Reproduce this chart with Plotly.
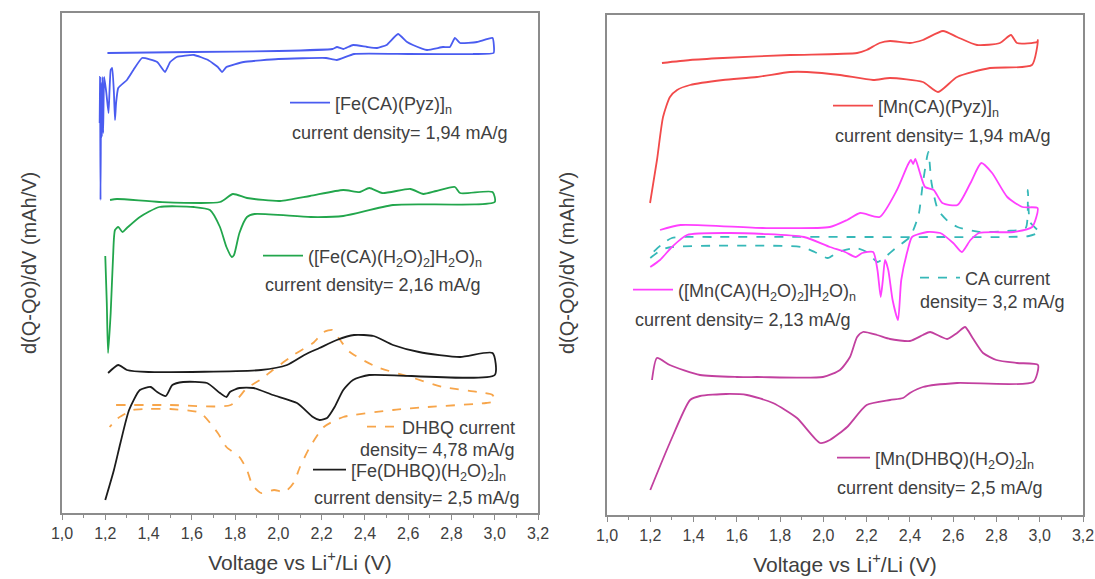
import plotly.graph_objects as go

W, H = 1095, 579

# ---------------- data (voltage in V, dQ/dV in arbitrary offset units) ----------------
# Left panel
fe_ca_pyz_v = [1.21, 1.6, 2.0, 2.25, 2.271, 2.30, 2.345, 2.41, 2.456, 2.50, 2.553, 2.595, 2.622, 2.687,
               2.761, 2.793, 2.816, 2.84, 2.918, 2.99, 2.995,
               2.9, 2.6, 2.35, 2.27, 2.22, 2.0, 1.84, 1.76, 1.74, 1.72, 1.675, 1.61, 1.53, 1.50, 1.476,
               1.44, 1.37, 1.33, 1.30, 1.26, 1.25, 1.245, 1.24, 1.232, 1.225, 1.215, 1.205, 1.195, 1.19,
               1.187, 1.184, 1.181, 1.178, 1.176, 1.174]
fe_ca_pyz_y = [460, 461, 462, 464, 466, 464, 468, 466, 465, 468, 479, 471, 468, 463,
               466, 466, 475, 470, 471, 475, 460,
               459, 459, 459, 453, 455, 454, 451, 446, 441, 446, 453, 458, 456, 451, 441,
               451, 455, 443, 433, 425, 410, 393, 420, 445, 443, 400, 420, 436, 380,
               436, 376, 430, 313, 436, 390]

fe_ca_h2o_v = [1.222, 1.254, 1.45, 1.73, 1.79, 1.855, 2.008, 2.146, 2.30, 2.377, 2.42, 2.48, 2.61, 2.67,
               2.73, 2.816, 2.84, 2.99, 3.0,
               2.53, 2.30, 2.15, 1.89, 1.855, 1.82, 1.795, 1.785, 1.76, 1.73, 1.684, 1.61, 1.45, 1.36,
               1.30, 1.28, 1.26, 1.245, 1.236, 1.225, 1.213, 1.207, 1.20]
fe_ca_h2o_y = [313, 314, 311, 311, 319, 315, 312, 317, 323, 321, 325, 320, 324, 319,
               322, 326, 320, 321, 311,
               308, 297, 296, 299, 296, 280, 258, 256, 266, 286, 303, 306, 306, 296,
               285, 281, 286, 283, 256, 200, 160, 210, 257]

fe_dhbq_v = [1.213, 1.26, 1.30, 1.40, 1.92, 2.04, 2.12, 2.19, 2.27, 2.35, 2.44, 2.53, 2.65, 2.84, 2.99, 3.0,
             2.42, 2.345, 2.30, 2.26, 2.225, 2.19, 2.16, 2.086, 1.975, 1.885, 1.82, 1.776, 1.76, 1.73,
             1.67, 1.56, 1.51, 1.48, 1.44, 1.41, 1.36, 1.31, 1.27, 1.24, 1.20]
fe_dhbq_y = [140, 148, 143, 141, 143, 148, 158, 165, 173, 178, 177, 168, 161, 156, 160, 138,
             138, 133, 123, 106, 95, 93, 96, 110, 118, 125, 125, 121, 116, 120,
             130, 131, 128, 117, 121, 126, 123, 103, 70, 43, 13]

dhbq_v = [1.25, 1.50, 1.78, 1.855, 1.915, 1.975, 2.07, 2.16, 2.21, 2.25, 2.285, 2.33, 2.455, 2.61, 2.76,
          2.92, 2.99, 3.0,
          2.96, 2.69, 2.53, 2.30, 2.21, 2.146, 2.10, 2.07, 2.03, 1.98, 1.92, 1.88, 1.855, 1.82, 1.76,
          1.72, 1.64, 1.50, 1.40, 1.33, 1.26, 1.22]
dhbq_y = [108, 108, 108, 125, 133, 143, 158, 170, 181, 183, 173, 161, 146, 136, 126,
          121, 118, 112,
          110, 106, 103, 96, 86, 66, 46, 30, 21, 23, 20, 28, 43, 56, 66,
          80, 100, 104, 104, 103, 95, 86]

# Right panel
mn_ca_pyz_v = [1.254, 1.384, 1.536, 1.846, 2.156, 2.20, 2.26, 2.308, 2.40, 2.46, 2.553, 2.618, 2.71,
               2.816, 2.867, 2.895, 2.988, 2.992,
               2.964, 2.77, 2.618, 2.53, 2.46, 2.308, 2.23, 2.077, 1.924, 1.846, 1.693, 1.536, 1.384,
               1.324, 1.291, 1.259, 1.231, 1.199]
mn_ca_pyz_y = [452, 455, 457, 460, 462, 465, 472, 474, 472, 475, 484, 478, 470,
               472, 480, 472, 473, 475,
               450, 447, 438, 423, 433, 437, 435, 440, 443, 443, 438, 435, 430,
               425, 418, 398, 355, 312]

mn_ca_h2o_v = [1.245, 1.34, 1.72, 2.03, 2.11, 2.17, 2.26, 2.34, 2.39, 2.405, 2.415, 2.425, 2.445, 2.47,
               2.51, 2.55, 2.62, 2.68, 2.73, 2.78, 2.85, 2.92, 2.99,
               2.965, 2.88, 2.72, 2.68, 2.64, 2.60, 2.54, 2.48, 2.41, 2.39, 2.36, 2.345, 2.32, 2.30,
               2.285, 2.275, 2.265, 2.25, 2.23, 2.18, 2.15, 2.10, 2.03, 1.91, 1.57, 1.37, 1.30,
               1.245, 1.20]
mn_ca_h2o_y = [285, 290, 287, 288, 295, 302, 298, 325, 350, 355, 351, 356, 343, 328,
               325, 312, 310, 332, 352, 342, 318, 308, 307,
               288, 283, 282, 275, 263, 272, 282, 283, 278, 265, 235, 195, 215, 245,
               255, 235, 218, 245, 263, 262, 258, 263, 268, 278, 282, 280, 268,
               255, 248]

ca_v = [1.20, 1.25, 1.30, 1.90, 1.96, 2.02, 2.07, 2.15, 2.20, 2.25, 2.28, 2.34, 2.40, 2.44, 2.46, 2.485,
        2.50, 2.53, 2.58, 2.62, 2.72, 2.85, 2.935, 2.945, 2.955, 2.99, 3.0,
        2.95, 2.5, 1.5, 1.30, 1.25, 1.20]
ca_y = [257, 265, 268, 268, 263, 257, 263, 267, 263, 253, 257, 268, 278, 300, 332, 363,
        332, 305, 293, 288, 283, 284, 287, 325, 293, 285, 283,
        279, 278, 278, 277, 270, 260]

mn_dhbq_v = [1.208, 1.231, 1.29, 1.43, 1.60, 1.693, 1.998, 2.077, 2.123, 2.156, 2.183, 2.248, 2.308, 2.40,
             2.46, 2.493, 2.572, 2.618, 2.655, 2.69, 2.738, 2.80, 2.895, 2.992, 2.97,
             2.618, 2.46, 2.40, 2.368, 2.308, 2.20, 2.11, 2.03, 1.985, 1.878, 1.767, 1.647, 1.55, 1.43,
             1.384, 1.29, 1.20]
mn_dhbq_y = [135, 157, 150, 140, 138, 138, 138, 145, 158, 178, 183, 180, 176, 174,
             180, 183, 176, 182, 188, 177, 162, 155, 152, 150, 133,
             132, 128, 122, 117, 115, 110, 88, 75, 72, 97, 112, 120, 121, 119,
             115, 72, 25]

x_ticks = [1.0, 1.2, 1.4, 1.6, 1.8, 2.0, 2.2, 2.4, 2.6, 2.8, 3.0, 3.2]

# ---------------- styling ----------------
TXT = "#404040"
FONT = "Arial, Liberation Sans, sans-serif"
FS = 18

def PX(x):
    return x / W

def PY(y):
    return 1 - y / H

fig = go.Figure()

series = [
    # (x, y, name, color, dash, xaxis, yaxis, legend id, legend x (px), legend y (px), itemwidth, smoothing)
    (fe_ca_pyz_v, fe_ca_pyz_y, "[Fe(CA)(Pyz)]<sub>n</sub>", "#4a5cf0", "solid", "x", "y", "legend", 285, 103, 40, 0.4),
    (fe_ca_h2o_v, fe_ca_h2o_y, "([Fe(CA)(H<sub>2</sub>O)<sub>2</sub>]H<sub>2</sub>O)<sub>n</sub>", "#22a64c", "solid", "x", "y", "legend2", 258, 256, 40, 0.6),
    (dhbq_v, dhbq_y, "DHBQ current", "#f7a54a", "dash", "x", "y", "legend3", 362, 427, 30, 0.6),
    (fe_dhbq_v, fe_dhbq_y, "[Fe(DHBQ)(H<sub>2</sub>O)<sub>2</sub>]<sub>n</sub>", "#1c1c1c", "solid", "x", "y", "legend4", 308, 470, 33, 0.6),
    (ca_v, ca_y, "CA current", "#36b8b8", "dash", "x2", "y2", "legend7", 915, 278, 40, 0.6),
    (mn_ca_pyz_v, mn_ca_pyz_y, "[Mn(CA)(Pyz)]<sub>n</sub>", "#f24a4a", "solid", "x2", "y2", "legend5", 828, 106, 40, 0.6),
    (mn_ca_h2o_v, mn_ca_h2o_y, "([Mn(CA)(H<sub>2</sub>O)<sub>2</sub>]H<sub>2</sub>O)<sub>n</sub>", "#ff40ff", "solid", "x2", "y2", "legend6", 628, 290, 40, 0.6),
    (mn_dhbq_v, mn_dhbq_y, "[Mn(DHBQ)(H<sub>2</sub>O)<sub>2</sub>]<sub>n</sub>", "#c2409f", "solid", "x2", "y2", "legend8", 832, 458, 33, 0.6),
]

layout_legends = {}
for (xv, yv, name, color, dash, xa, ya, lg, lx, ly, iw, sm) in series:
    fig.add_trace(go.Scatter(
        x=xv, y=yv, mode="lines", name=name, xaxis=xa, yaxis=ya, legend=lg,
        line=dict(color=color, width=1.8, dash=dash, shape="spline", smoothing=sm),
        hoverinfo="skip",
    ))
    layout_legends[lg] = dict(
        x=PX(lx), y=PY(ly), xanchor="left", yanchor="middle",
        bgcolor="rgba(0,0,0,0)", borderwidth=0, itemwidth=iw,
        font=dict(family=FONT, size=FS, color=TXT),
        itemclick=False, itemdoubleclick=False,
    )

axis_common = dict(
    showline=True, mirror=True, linecolor="#8c8c8c", linewidth=1.5,
    showgrid=False, zeroline=False,
)
xcommon = dict(
    axis_common, range=[1.0, 3.2], tickmode="array", tickvals=x_ticks, tickformat=".1f",
    ticks="outside", ticklen=5, tickwidth=1.2, tickcolor="#8c8c8c",
    minor=dict(dtick=0.1, tick0=1.0, ticks="outside", ticklen=3, tickwidth=1, tickcolor="#8c8c8c"),
    tickfont=dict(family=FONT, size=16, color=TXT),
    title=dict(text="Voltage vs Li<sup>+</sup>/Li (V)", font=dict(family=FONT, size=21, color=TXT), standoff=14),
    automargin=False,
)
ycommon = dict(axis_common, range=[0, 500], showticklabels=False, ticks="", automargin=False)

fig.update_layout(
    width=W, height=H,
    margin=dict(l=0, r=0, t=0, b=0),
    paper_bgcolor="white", plot_bgcolor="white",
    separators=", ",
    font=dict(family=FONT, color=TXT),
    xaxis=dict(xcommon, domain=[PX(62), PX(538)], anchor="y"),
    yaxis=dict(ycommon, domain=[PY(513), PY(13)], anchor="x"),
    xaxis2=dict(xcommon, domain=[PX(607), PX(1083)], anchor="y2"),
    yaxis2=dict(ycommon, domain=[PY(515), PY(15)], anchor="x2"),
    showlegend=True,
    **layout_legends,
)

ann_font = dict(family=FONT, size=FS, color=TXT)
notes = [
    ("current density= 1,94 mA/g", 290, 133, "left"),
    ("current density= 2,16 mA/g", 263, 285, "left"),
    ("density= 4,78 mA/g", 517, 450, "right"),
    ("current density= 2,5 mA/g", 312, 498, "left"),
    ("current density= 1,94 mA/g", 833, 136, "left"),
    ("current density= 2,13 mA/g", 633, 320, "left"),
    ("density= 3,2 mA/g", 1067, 302, "right"),
    ("current density= 2,5 mA/g", 835, 488, "left"),
]
for text, x, y, anc in notes:
    fig.add_annotation(text=text, xref="paper", yref="paper", x=PX(x), y=PY(y),
                       xanchor=anc, yanchor="middle", showarrow=False, font=ann_font)

for xc in (29, 567):
    fig.add_annotation(text="d(Q-Qo)/dV (mAh/V)", xref="paper", yref="paper", x=PX(xc), y=PY(263),
                       xanchor="center", yanchor="middle", textangle=-90, showarrow=False,
                       font=dict(family=FONT, size=20, color=TXT))

fig.write_html("out.html")
